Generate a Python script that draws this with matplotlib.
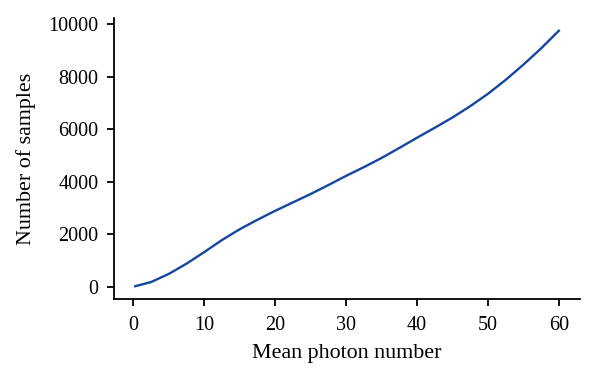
import matplotlib
matplotlib.use("Agg")
import matplotlib.pyplot as plt

mean_photon = [0.25, 2.5, 5, 7.5, 10, 12.5, 15, 17.5, 20, 22.5, 25, 27.5, 30,
               32.5, 35, 37.5, 40, 42.5, 45, 47.5, 50, 52.5, 55, 57.5, 60]
n_samples = [30, 190, 500, 890, 1330, 1790, 2200, 2560, 2900, 3220, 3540, 3880, 4230,
             4560, 4910, 5290, 5680, 6060, 6450, 6880, 7350, 7880, 8460, 9080, 9750]
x_ticks = [0, 10, 20, 30, 40, 50, 60]
y_ticks = [0, 2000, 4000, 6000, 8000, 10000]

plt.rcParams['font.family'] = ['Liberation Serif', 'DejaVu Serif']
plt.rcParams['font.size'] = 14.5

fig = plt.figure(figsize=(5.97, 3.83), dpi=100)
ax = fig.add_axes([114 / 597, 1 - 299 / 383, (580 - 114) / 597, (299 - 18) / 383])

ax.plot(mean_photon, n_samples, color='#1546a0', linewidth=1.7)

ax.set_xticks(x_ticks)
ax.set_yticks(y_ticks)
ax.set_xlabel("Mean photon number", fontsize=15.8, labelpad=7)
ax.set_ylabel("Number of samples", fontsize=15.8, labelpad=9)

for side in ['top', 'right']:
    ax.spines[side].set_visible(False)
for side in ['left', 'bottom']:
    ax.spines[side].set_linewidth(1.3)
ax.tick_params(width=1.3, length=5)
ax.tick_params(axis='x', pad=7)
ax.tick_params(axis='y', pad=6)

fig.savefig("out.png", dpi=100)
